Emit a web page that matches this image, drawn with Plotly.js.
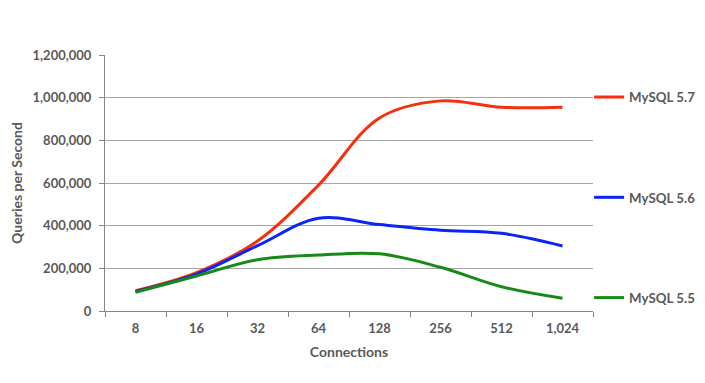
<!DOCTYPE html>
<html><head><meta charset="utf-8">
<script src="https://cdn.plot.ly/plotly-3.0.1.min.js"></script>
<style>html,body{margin:0;padding:0;background:#fff}#c{width:705px;height:383px}</style>
</head><body><div id="c"></div>
<script>
const connections = ['8','16','32','64','128','256','512','1,024'];
const mysql57 = [95000,180000,328000,590000,905000,985000,955000,955000];
const mysql56 = [92000,173000,306000,435000,405000,379000,364000,305000];
const mysql55 = [88000,164000,240000,262000,268000,205000,114000,60000];
const seriesNames = ['MySQL 5.7','MySQL 5.6','MySQL 5.5'];
const seriesColors = ['#f5300e','#0b25f2','#168a16'];
const seriesValues = [mysql57, mysql56, mysql55];

const font = {family:'Lato, "Open Sans", sans-serif', size:13, color:'#595959', weight:'bold'};
const tfont = Object.assign({}, font, {size:14});
const traces = seriesValues.map((v,i)=>({
  x: connections, y: v, type:'scatter', mode:'lines', name: seriesNames[i],
  legendgroup: 'g'+i,
  line:{color:seriesColors[i], width:3, shape:'spline', smoothing:1}
}));
const layout = {
  width:705, height:383,
  margin:{l:105, r:112, t:55, b:72, autoexpand:false},
  paper_bgcolor:'#fff', plot_bgcolor:'#fff',
  font: font,
  showlegend:true,
  legend:{x:0.992, xanchor:'left', y:0.895, yanchor:'top', yref:'paper',
    tracegroupgap:80, font:Object.assign({}, font, {size:13.3}), bgcolor:'rgba(0,0,0,0)', itemwidth:30},
  xaxis:{type:'category', categoryorder:'array', categoryarray:connections,
    range:[-0.5, 7.5],
    showgrid:false, showline:true, linecolor:'#868686', linewidth:1,
    ticks:'outside', ticklen:5, tickcolor:'#868686', tickson:'boundaries',
    tickfont:font, zeroline:false, ticklabelstandoff:5,
    title:{text:'Connections', font:tfont, standoff:12}},
  yaxis:{range:[0,1200000], dtick:200000, tickformat:',d',
    showgrid:true, gridcolor:'#a6a6a6', gridwidth:1,
    showline:true, linecolor:'#868686', linewidth:1,
    ticks:'outside', ticklen:5, tickcolor:'#868686',
    tickfont:font, zeroline:false, ticklabelstandoff:5,
    title:{text:'Queries per Second', font:tfont, standoff:6}}
};
Plotly.newPlot('c', traces, layout, {displayModeBar:false, staticPlot:true});
</script></body></html>
